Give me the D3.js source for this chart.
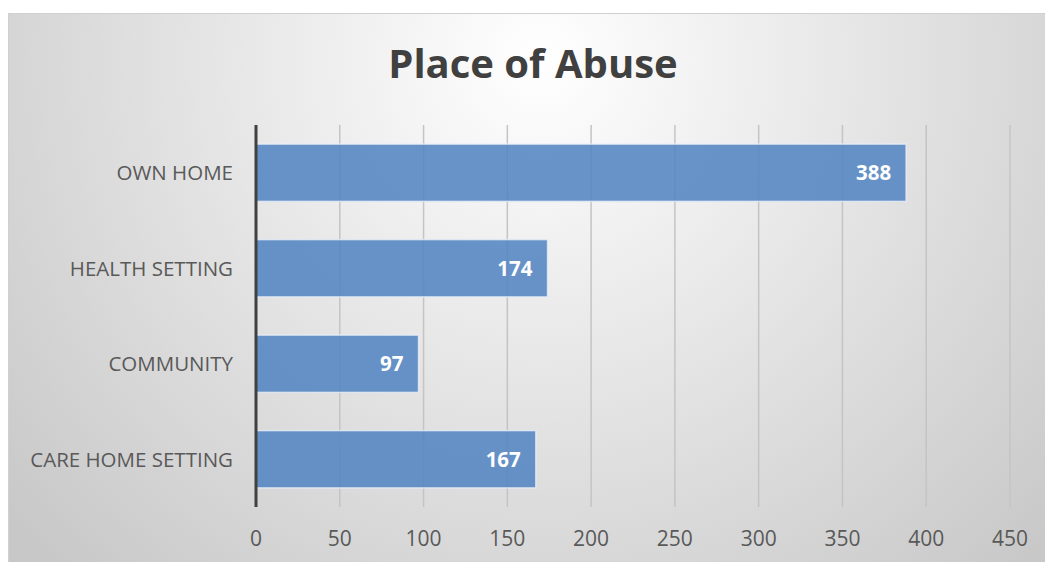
<!DOCTYPE html>
<html>
<head>
<meta charset="utf-8">
<script src="https://d3js.org/d3.v7.min.js"></script>
<style>
  body { margin: 0; background: #fff; }
  svg { display: block; }
</style>
</head>
<body>
<script>
// data
var places = ["OWN HOME", "HEALTH SETTING", "COMMUNITY", "CARE HOME SETTING"];
var counts = [388, 174, 97, 167];
var xTicks = [0, 50, 100, 150, 200, 250, 300, 350, 400, 450];

var w = 1045, h = 562;
var plotLeft = 256, plotRight = 1010, plotTop = 125, plotBottom = 507;

var svg = d3.select("body").append("svg")
    .attr("width", w)
    .attr("height", h);

// background gradient, white near the title and grey to the edges
var defs = svg.append("defs");
var grad = defs.append("radialGradient")
    .attr("id", "bg")
    .attr("gradientUnits", "userSpaceOnUse")
    .attr("cx", 540).attr("cy", 60).attr("r", 700);
grad.append("stop").attr("offset", "0%").attr("stop-color", "#ffffff");
grad.append("stop").attr("offset", "100%").attr("stop-color", "#c8c8c8");

svg.append("rect")
    .attr("x", 8.5).attr("y", 13.5)
    .attr("width", w).attr("height", h)
    .attr("fill", "url(#bg)")
    .attr("stroke", "#d0d0d0");

var x = d3.scaleLinear().domain([0, 450]).range([plotLeft, plotRight]);
var y = d3.scaleBand().domain(places).range([plotTop, plotBottom]).paddingInner(0.4).paddingOuter(0.2);

// title
svg.append("text")
    .attr("x", 533).attr("y", 78)
    .attr("text-anchor", "middle")
    .attr("font-family", "'Open Sans', sans-serif")
    .attr("font-weight", "bold")
    .attr("font-size", 40)
    .attr("fill", "#404040")
    .text("Place of Abuse");

// gridlines
svg.append("g").selectAll("line")
    .data(xTicks.slice(1))
    .enter().append("line")
    .attr("x1", d => x(d)).attr("x2", d => x(d))
    .attr("y1", plotTop).attr("y2", plotBottom)
    .attr("stroke", "#c4c4c4")
    .attr("stroke-width", 1.5);

// bars
svg.append("g").selectAll("rect")
    .data(places)
    .enter().append("rect")
    .attr("x", x(0))
    .attr("y", d => y(d))
    .attr("width", (d, i) => x(counts[i]) - x(0))
    .attr("height", y.bandwidth())
    .attr("fill", "#5385c2")
    .attr("fill-opacity", 0.88)
    .attr("stroke", "#e8eef7")
    .attr("stroke-opacity", 0.8)
    .attr("stroke-width", 1.5);

// value labels
svg.append("g").selectAll("text")
    .data(places)
    .enter().append("text")
    .attr("x", (d, i) => x(counts[i]) - 15)
    .attr("y", d => y(d) + y.bandwidth() / 2)
    .attr("dy", "0.36em")
    .attr("text-anchor", "end")
    .attr("font-family", "'Open Sans', sans-serif")
    .attr("font-weight", "bold")
    .attr("font-size", 20.5)
    .attr("fill", "#ffffff")
    .text((d, i) => counts[i]);

// y axis line
svg.append("line")
    .attr("x1", x(0)).attr("x2", x(0))
    .attr("y1", plotTop).attr("y2", plotBottom)
    .attr("stroke", "#404040")
    .attr("stroke-width", 3);

// category labels
svg.append("g").selectAll("text")
    .data(places)
    .enter().append("text")
    .attr("x", 233)
    .attr("y", d => y(d) + y.bandwidth() / 2)
    .attr("dy", "0.36em")
    .attr("text-anchor", "end")
    .attr("font-family", "'Open Sans', sans-serif")
    .attr("font-size", 20.5)
    .attr("fill", "#595959")
    .text(d => d);

// x tick labels
svg.append("g").selectAll("text")
    .data(xTicks)
    .enter().append("text")
    .attr("x", d => x(d))
    .attr("y", 546)
    .attr("text-anchor", "middle")
    .attr("font-family", "'Open Sans', sans-serif")
    .attr("font-size", 21)
    .attr("fill", "#595959")
    .text(d => d);
</script>
</body>
</html>
